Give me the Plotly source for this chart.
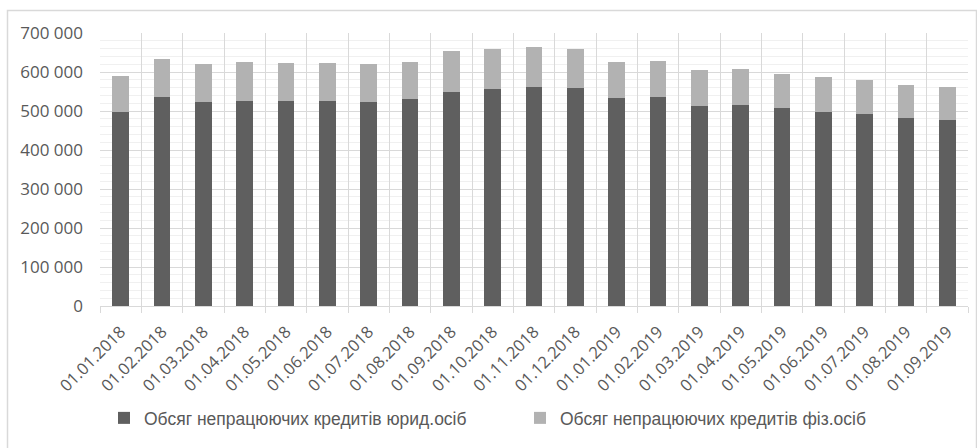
import plotly.graph_objects as go

dates = ["01.01.2018", "01.02.2018", "01.03.2018", "01.04.2018", "01.05.2018", "01.06.2018",
         "01.07.2018", "01.08.2018", "01.09.2018", "01.10.2018", "01.11.2018", "01.12.2018",
         "01.01.2019", "01.02.2019", "01.03.2019", "01.04.2019", "01.05.2019", "01.06.2019",
         "01.07.2019", "01.08.2019", "01.09.2019"]

legal_entities = [498000, 535500, 522700, 525000, 525000, 525000, 522700, 530000, 549000, 557000,
                  562000, 559000, 534500, 537000, 512000, 515000, 508000, 498000, 492600, 482000,
                  478000]

totals = [591000, 634000, 621000, 626000, 623600, 623600, 621000, 626000, 652700, 658000,
          663000, 660000, 626000, 629000, 604000, 606500, 596000, 586000, 579000, 566000,
          561000]

individuals = [t - l for t, l in zip(totals, legal_entities)]

name_legal = "Обсяг непрацюючих кредитів юрид.осіб"
name_ind = "Обсяг непрацюючих кредитів фіз.осіб"

FONT = "Liberation Sans Narrow, Liberation Sans, Arial, sans-serif"

fig = go.Figure()
fig.add_trace(go.Bar(x=dates, y=legal_entities, name=name_legal, showlegend=True,
                     marker=dict(color="#5f5f5f", line=dict(width=0)), legend="legend"))
fig.add_trace(go.Bar(x=dates, y=individuals, name=name_ind, showlegend=True,
                     marker=dict(color="#b2b2b2", line=dict(width=0)), legend="legend2"))

L, R, T, B = 100, 9, 33, 142
W, H = 977, 448
pw = W - L - R
ph = H - T - B

def px_x(x):
    return (x - L) / pw

def px_y(y):
    return (H - B - y) / ph

fig.update_layout(
    width=W, height=H,
    margin=dict(l=L, r=R, t=T, b=B),
    barmode="stack",
    bargap=0.59,
    showlegend=True,
    plot_bgcolor="white",
    paper_bgcolor="white",
    separators=", ",
    font=dict(family=FONT, color="#595959", size=14),
    legend=dict(orientation="h", x=px_x(104), y=px_y(418), xanchor="left", yanchor="middle",
                font=dict(size=17.5, color="#595959"), itemwidth=30, bgcolor="rgba(0,0,0,0)",
                visible=True),
    legend2=dict(orientation="h", x=px_x(520), y=px_y(418), xanchor="left", yanchor="middle",
                 font=dict(size=17.5, color="#595959"), itemwidth=30, bgcolor="rgba(0,0,0,0)",
                 visible=True),
    xaxis=dict(
        type="category",
        tickson="boundaries",
        showgrid=True, gridcolor="#d9d9d9", gridwidth=1,
        ticks="outside", ticklen=6, tickcolor="#d9d9d9",
        tickangle=-45,
        ticklabelstandoff=12,
        tickfont=dict(family="Open Sans, sans-serif", size=16.5, color="#595959"),
        showline=False,
        zeroline=False,
    ),
    yaxis=dict(
        range=[0, 700000],
        dtick=100000,
        tickformat=",d",
        showgrid=True, gridcolor="#d9d9d9", gridwidth=1,
        minor=dict(dtick=20000, showgrid=True, gridcolor="#f0f0f0", gridwidth=1),
        zeroline=True, zerolinecolor="#d9d9d9", zerolinewidth=1,
        ticklabelstandoff=16,
        tickfont=dict(family="Open Sans, sans-serif", size=17, color="#595959"),
        showline=False,
    ),
    shapes=[dict(type="rect", xref="paper", yref="paper",
                 x0=px_x(7.5), x1=px_x(976.5), y0=px_y(470), y1=px_y(10.5),
                 line=dict(color="#d9d9d9", width=1.5), fillcolor="rgba(0,0,0,0)", layer="below")],
)

fig.write_html("out.html")
